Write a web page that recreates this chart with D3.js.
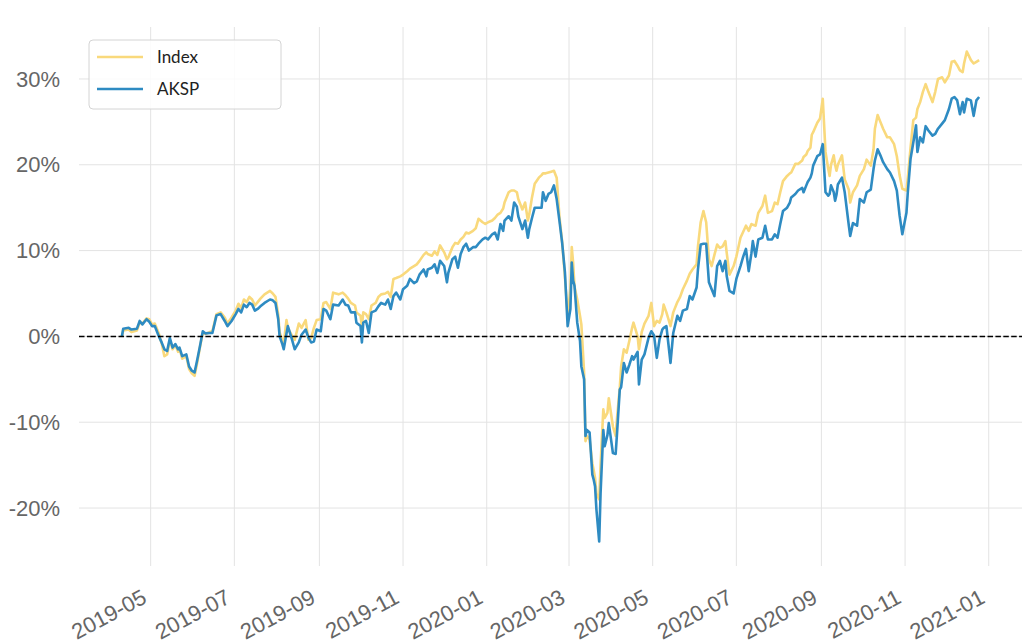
<!DOCTYPE html>
<html>
<head>
<meta charset="utf-8">
<script src="https://cdn.jsdelivr.net/npm/d3@7"></script>
<style>
  body { margin: 0; background: #fff; }
  svg { display: block; }
</style>
</head>
<body>
<svg id="chart" width="1024" height="643"></svg>
<script>
// trading dates (sampled) and cumulative returns in %
const dates = [
  "2019-04-10","2019-04-11","2019-04-15","2019-04-17","2019-04-21","2019-04-23","2019-04-25","2019-04-28","2019-04-30",
  "2019-05-02","2019-05-04","2019-05-07","2019-05-09","2019-05-11","2019-05-13","2019-05-15","2019-05-17","2019-05-19",
  "2019-05-21","2019-05-22","2019-05-24","2019-05-27","2019-05-29","2019-05-31",
  "2019-06-02","2019-06-04","2019-06-06","2019-06-08","2019-06-10","2019-06-13","2019-06-15","2019-06-18","2019-06-21",
  "2019-06-24","2019-06-26","2019-06-29",
  "2019-07-02","2019-07-04","2019-07-06","2019-07-08","2019-07-10","2019-07-12","2019-07-14","2019-07-16","2019-07-18",
  "2019-07-20","2019-07-23","2019-07-27","2019-07-29","2019-07-31",
  "2019-08-02","2019-08-03","2019-08-05","2019-08-06","2019-08-08","2019-08-09","2019-08-12","2019-08-14","2019-08-17",
  "2019-08-19","2019-08-22","2019-08-24","2019-08-26","2019-08-28","2019-08-30",
  "2019-09-02","2019-09-04","2019-09-06","2019-09-09","2019-09-11","2019-09-15","2019-09-18","2019-09-20","2019-09-22",
  "2019-09-24","2019-09-27","2019-09-28",
  "2019-10-01","2019-10-02","2019-10-03","2019-10-05","2019-10-07","2019-10-09","2019-10-12","2019-10-14","2019-10-16",
  "2019-10-19","2019-10-21","2019-10-23","2019-10-25","2019-10-27","2019-10-30",
  "2019-11-01","2019-11-04","2019-11-06","2019-11-09","2019-11-11","2019-11-13","2019-11-16","2019-11-18","2019-11-19",
  "2019-11-22","2019-11-24","2019-11-26","2019-11-28",
  "2019-12-01","2019-12-03","2019-12-04","2019-12-07","2019-12-09","2019-12-11","2019-12-13","2019-12-15","2019-12-17",
  "2019-12-19","2019-12-22","2019-12-24","2019-12-26","2019-12-29","2019-12-31",
  "2020-01-02","2020-01-05","2020-01-07","2020-01-09","2020-01-11","2020-01-13","2020-01-14","2020-01-17","2020-01-19",
  "2020-01-21","2020-01-23","2020-01-24","2020-01-27","2020-01-29","2020-01-31",
  "2020-02-01","2020-02-03","2020-02-05","2020-02-08","2020-02-10","2020-02-11","2020-02-13","2020-02-15","2020-02-17",
  "2020-02-19","2020-02-21","2020-02-23","2020-02-25","2020-02-27","2020-02-29",
  "2020-03-02","2020-03-03","2020-03-04","2020-03-05","2020-03-07","2020-03-09","2020-03-10","2020-03-12","2020-03-13",
  "2020-03-14","2020-03-16","2020-03-18","2020-03-19","2020-03-20","2020-03-21","2020-03-23","2020-03-24","2020-03-26",
  "2020-03-27","2020-03-29","2020-03-30",
  "2020-04-02","2020-04-04","2020-04-05","2020-04-07","2020-04-08","2020-04-10","2020-04-12","2020-04-14","2020-04-16",
  "2020-04-17","2020-04-20","2020-04-21","2020-04-23","2020-04-25","2020-04-28","2020-04-30",
  "2020-05-02","2020-05-04","2020-05-06","2020-05-08","2020-05-09","2020-05-11","2020-05-14","2020-05-16","2020-05-19",
  "2020-05-21","2020-05-23","2020-05-26","2020-05-28","2020-05-30",
  "2020-06-02","2020-06-03","2020-06-05","2020-06-07","2020-06-09","2020-06-11","2020-06-13","2020-06-15","2020-06-17",
  "2020-06-19","2020-06-21","2020-06-23","2020-06-24","2020-06-26","2020-06-29",
  "2020-07-01","2020-07-04","2020-07-06","2020-07-08","2020-07-10","2020-07-12","2020-07-13","2020-07-15","2020-07-17",
  "2020-07-20","2020-07-22","2020-07-24","2020-07-27","2020-07-29","2020-07-31",
  "2020-08-02","2020-08-04","2020-08-07","2020-08-09","2020-08-10","2020-08-13","2020-08-15","2020-08-18","2020-08-19",
  "2020-08-21","2020-08-22","2020-08-24","2020-08-25","2020-08-26","2020-08-29","2020-08-31",
  "2020-09-02","2020-09-04","2020-09-06","2020-09-07","2020-09-08","2020-09-10","2020-09-11","2020-09-12","2020-09-13",
  "2020-09-16","2020-09-18","2020-09-21","2020-09-22","2020-09-24","2020-09-27","2020-09-29",
  "2020-10-02","2020-10-04","2020-10-07","2020-10-09","2020-10-10","2020-10-12","2020-10-14","2020-10-16","2020-10-19",
  "2020-10-21","2020-10-24","2020-10-26","2020-10-28","2020-10-30",
  "2020-11-02","2020-11-03","2020-11-05","2020-11-07","2020-11-09","2020-11-10","2020-11-12","2020-11-14","2020-11-16",
  "2020-11-18","2020-11-21","2020-11-23","2020-11-25","2020-11-28","2020-11-30",
  "2020-12-03","2020-12-05","2020-12-07","2020-12-09","2020-12-11","2020-12-13","2020-12-14","2020-12-16","2020-12-19",
  "2020-12-21","2020-12-23","2020-12-25"
];

const aksp = [
  0.0, 0.9, 1.0, 0.8, 0.9, 1.8, 1.4, 2.0, 1.7,
  1.2, 1.2, 0.0, -0.7, -1.5, -1.7, -0.2, -1.3, -0.9,
  -1.5, -1.3, -2.3, -2.1, -3.5, -4.0,
  -4.2, -2.7, -1.1, 0.6, 0.35, 0.4, 0.4, 2.45, 2.6,
  1.8, 1.2, 1.8,
  2.6, 3.2, 2.8, 3.7, 3.4, 3.9, 3.7, 3.0, 3.2,
  3.5, 3.9, 4.3, 4.2, 3.9,
  2.0, 0.0, -0.9, -1.5, 0.3, 1.2, -0.35, -1.5, -0.7,
  0.2, 0.8, -0.15, -0.7, -0.6, 0.8,
  0.6, 3.2, 3.0, 2.0, 3.7, 3.6, 4.3, 3.7, 3.6,
  2.8, 2.8, 1.6,
  1.2, -0.7, 1.6, 1.8, 0.4, 2.8, 3.0, 3.5, 3.9,
  3.7, 4.3, 3.2, 4.7, 5.1, 4.3,
  5.5, 5.9, 6.7, 6.2, 6.4, 7.2, 7.8, 7.0, 7.8,
  8.0, 8.4, 7.4, 8.8,
  8.2, 6.3, 7.4, 9.0, 9.3, 8.0, 9.6, 10.4, 10.8,
  10.0, 10.4, 10.4, 10.8, 11.3, 11.5,
  11.3, 11.9, 12.1, 11.3, 13.1, 12.3, 13.5, 14.0, 13.5,
  15.6, 15.1, 14.0, 12.5, 13.5, 11.5,
  12.5, 13.8, 15.0, 15.0, 15.0, 16.8, 15.8, 16.6, 16.8,
  17.6, 16.0, 13.5, 10.9, 7.5, 1.2,
  3.2, 8.6, 6.5, 5.9, 1.6, -0.5, -3.5, -5.0, -11.6,
  -10.9, -11.2, -16.1, -16.7, -17.5, -20.2, -23.9, -18.3, -10.9,
  -12.8, -11.5, -10.1,
  -13.6, -13.7, -11.3, -6.2, -5.9, -3.1, -4.2, -3.3, -2.3,
  -2.7, -1.8, -5.6, -2.7, -2.1, -0.15, 0.6,
  0.1, -2.5, -0.35, 0.8, 1.0, 1.2, -3.1, 0.4, 2.4,
  1.8, 3.0, 3.2, 4.7, 4.3,
  5.7, 7.8, 10.7, 10.8, 10.8, 6.3, 5.5, 4.7, 8.2,
  8.8, 7.6, 8.8, 7.0, 5.3, 5.0,
  6.7, 8.2, 9.3, 10.2, 7.6, 9.7, 11.1, 9.3, 11.3,
  11.5, 12.9, 11.3, 11.3, 11.9, 11.5,
  13.1, 14.6, 15.0, 15.6, 16.2, 16.6, 17.0, 17.3, 16.8,
  17.6, 18.0, 18.5, 19.0, 19.9, 21.0, 21.2,
  22.4, 16.8, 16.4, 16.6, 17.6, 16.8, 15.8, 16.5, 17.7,
  18.5, 16.8, 12.9, 11.7, 13.2, 12.9, 16.0,
  15.6, 16.8, 17.1, 19.5, 20.5, 21.8, 21.1, 20.3, 19.5,
  19.1, 18.1, 17.0, 14.1, 11.9,
  14.4, 16.8, 20.7, 22.6, 24.6, 21.5, 23.2, 22.6, 24.5,
  24.0, 23.4, 23.6, 24.2, 24.8, 25.2,
  26.5, 27.7, 27.9, 27.5, 25.9, 27.3, 26.1, 27.7, 27.5,
  25.7, 27.5, 27.9
];

const index = [
  0.0, 0.7, 0.8, 0.5, 0.7, 1.6, 1.5, 2.1, 2.0,
  1.4, 1.5, 0.3, -0.8, -2.3, -2.1, -0.4, -1.5, -1.0,
  -1.8, -1.4, -2.6, -2.3, -3.8, -4.3,
  -4.6, -3.0, -1.2, 0.4, 0.3, 0.5, 0.6, 2.6, 2.8,
  2.2, 1.5, 2.2,
  3.0, 3.8, 3.3, 4.3, 4.0, 4.6, 4.3, 3.6, 4.0,
  4.4, 4.9, 5.3, 5.0, 4.6,
  2.5, 0.5, -0.5, -0.9, 1.9, 1.0, 0.1, -0.4, 1.5,
  1.0, 1.9, -0.4, -0.2, 1.0, 1.9,
  2.0, 3.9, 4.0, 3.2, 5.1, 4.9, 5.1, 4.8, 4.4,
  3.9, 3.6, 2.8,
  2.4, 1.2, 2.8, 2.6, 2.0, 3.6, 3.9, 4.6, 4.9,
  5.0, 5.2, 4.6, 6.7, 6.8, 7.0,
  7.2, 7.6, 7.9, 8.2, 8.4, 8.8, 9.5, 9.8, 9.6,
  9.4, 9.9, 9.5, 10.6,
  9.8, 9.0, 9.2, 10.4, 10.9, 10.8, 11.3, 11.6, 12.1,
  12.0, 12.3, 12.6, 13.7, 13.3, 13.1,
  13.3, 13.5, 13.8, 14.2, 14.4, 14.9, 15.6, 16.8, 17.0,
  17.0, 16.8, 16.0, 14.8, 15.6, 13.5,
  14.2, 16.2, 17.8, 18.5, 18.8, 19.0, 19.0, 19.1, 19.2,
  19.3, 18.5, 14.0, 11.0, 7.0, 2.4,
  5.5, 10.4, 8.6, 5.8, 4.3, 2.4, 1.4, -4.2, -12.2,
  -11.6, -12.0, -14.8, -15.6, -16.5, -18.3, -19.0, -15.0, -8.5,
  -9.5, -8.9, -7.2,
  -10.5, -11.6, -9.5, -6.0, -3.5, -1.5, -1.9, -0.5, 1.0,
  1.6, 0.0, -1.5, 0.5, 1.5, 2.4, 3.9,
  1.2, 1.8, 1.6, 2.6, 3.7, 2.8, 1.2, 2.8, 4.0,
  4.6, 5.5, 6.5, 7.3, 7.8,
  8.4, 10.5, 13.3, 14.6, 13.3, 9.0, 8.2, 9.5, 10.7,
  10.3, 10.5, 11.1, 9.7, 7.2, 8.2,
  9.3, 11.5, 12.2, 12.9, 12.3, 13.1, 13.0, 12.9, 14.4,
  15.2, 16.4, 14.4, 14.6, 15.6, 15.4,
  16.8, 18.1, 18.7, 19.0, 19.1, 20.1, 20.1, 20.5, 20.9,
  21.2, 21.6, 22.0, 23.5, 23.8, 24.9, 25.4,
  27.7, 21.5, 19.5, 18.7, 20.0, 21.1, 20.0, 19.3, 20.0,
  21.1, 18.3, 17.1, 15.6, 16.8, 17.6, 18.7,
  19.5, 20.6, 19.9, 21.8, 24.2, 25.8, 25.0, 24.2, 23.2,
  23.2, 22.4, 21.0, 18.8, 17.2,
  17.0, 18.5, 22.0, 25.2, 25.5, 26.5, 27.3, 28.5, 29.4,
  28.5, 27.3, 28.5, 30.0, 30.2, 29.6,
  30.4, 32.0, 32.1, 31.6, 31.0, 30.8, 31.8, 33.2, 32.2,
  31.8, 32.0, 32.2
];

const seriesNames = ["Index", "AKSP"];
const seriesColors = ["#f9d97c", "#2e8bc2"];
const yTicks = [-20, -10, 0, 10, 20, 30];

const svg = d3.select("#chart");
const plot = { left: 79, right: 1022, top: 27, bottom: 566 };

const parseDate = d3.timeParse("%Y-%m-%d");
const xDates = dates.map(parseDate);

// matplotlib-like 5% margins around the data
const xExt = d3.extent(xDates);
const xPad = (xExt[1] - xExt[0]) * 0.05;
const x = d3.scaleTime()
  .domain([new Date(+xExt[0] - xPad), new Date(+xExt[1] + xPad)])
  .range([plot.left, plot.right]);

const allVals = aksp.concat(index);
const yExt = d3.extent(allVals);
const yPad = (yExt[1] - yExt[0]) * 0.05;
const y = d3.scaleLinear()
  .domain([yExt[0] - yPad, yExt[1] + yPad])
  .range([plot.bottom, plot.top]);

const monthTicks = x.ticks(d3.timeMonth.every(2));

// grid
const grid = svg.append("g").attr("class", "grid");
grid.selectAll(".vgrid")
  .data(monthTicks)
  .join("line")
  .attr("x1", d => x(d)).attr("x2", d => x(d))
  .attr("y1", plot.top).attr("y2", plot.bottom)
  .attr("stroke", "#e3e3e3").attr("stroke-width", 1);
grid.selectAll(".hgrid")
  .data(yTicks)
  .join("line")
  .attr("x1", plot.left).attr("x2", plot.right)
  .attr("y1", d => y(d)).attr("y2", d => y(d))
  .attr("stroke", "#e3e3e3").attr("stroke-width", 1);

// y axis
const yAxis = svg.append("g")
  .attr("transform", `translate(${plot.left},0)`)
  .call(d3.axisLeft(y).tickValues(yTicks).tickSize(0).tickPadding(19).tickFormat(d => d + "%"));
yAxis.select(".domain").remove();
yAxis.selectAll("text")
  .attr("font-family", "Liberation Sans, Arial, sans-serif")
  .attr("font-size", 22)
  .attr("fill", "#666");

// x axis
const xAxis = svg.append("g")
  .attr("transform", `translate(0,${plot.bottom})`)
  .call(d3.axisBottom(x).tickValues(monthTicks).tickSize(0).tickFormat(d3.timeFormat("%Y-%m")));
xAxis.select(".domain").remove();
xAxis.selectAll("text")
  .attr("x", 0).attr("y", 0).attr("dy", 0)
  .attr("text-anchor", "end")
  .attr("transform", "translate(-3,36) rotate(-28)")
  .attr("font-family", "Liberation Sans, Arial, sans-serif")
  .attr("font-size", 22)
  .attr("fill", "#666");

// lines
const series = [index, aksp];
const line = d3.line()
  .x((d, i) => x(xDates[i]))
  .y(d => y(d));

svg.append("g")
  .selectAll("path")
  .data(series)
  .join("path")
  .attr("d", d => line(d))
  .attr("fill", "none")
  .attr("stroke", (d, i) => seriesColors[i])
  .attr("stroke-width", 2.6)
  .attr("stroke-linejoin", "round");

// zero reference line
svg.append("line")
  .attr("x1", plot.left).attr("x2", plot.right)
  .attr("y1", y(0)).attr("y2", y(0))
  .attr("stroke", "#000")
  .attr("stroke-width", 1.5)
  .attr("stroke-dasharray", "5.5,2.4");

// legend
const legend = svg.append("g").attr("transform", "translate(89,40)");
legend.append("rect")
  .attr("width", 192).attr("height", 69)
  .attr("rx", 4)
  .attr("fill", "#fff")
  .attr("fill-opacity", 0.85)
  .attr("stroke", "#d4d4d4");
const item = legend.selectAll(".item")
  .data(seriesNames)
  .join("g")
  .attr("transform", (d, i) => `translate(0,${17 + i * 32})`);
item.append("line")
  .attr("x1", 8).attr("x2", 54)
  .attr("stroke", (d, i) => seriesColors[i])
  .attr("stroke-width", 2.6);
item.append("text")
  .attr("x", 68)
  .attr("dy", "0.35em")
  .attr("font-family", "Lato, Liberation Sans, sans-serif")
  .attr("font-size", 17)
  .attr("fill", "#222")
  .text(d => d);
</script>
</body>
</html>
